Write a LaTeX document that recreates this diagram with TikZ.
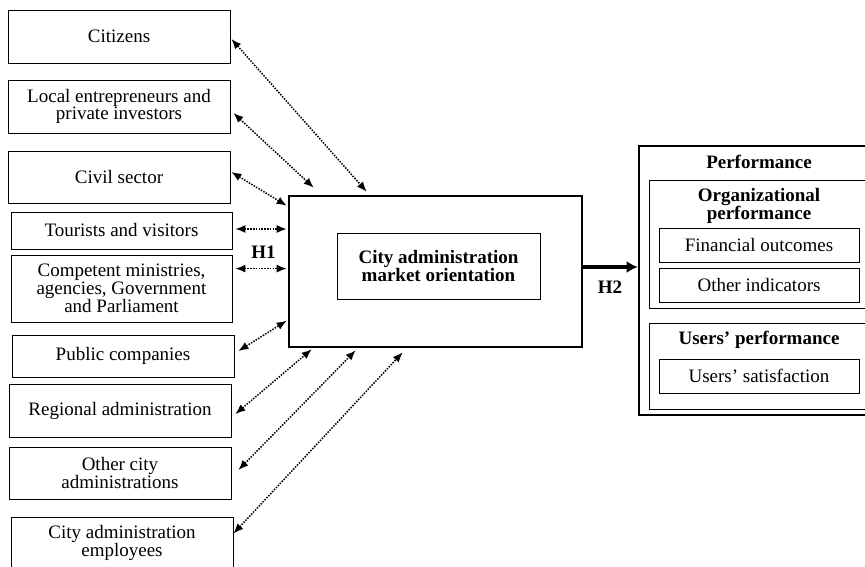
\documentclass[tikz,border=0pt]{standalone}
\usepackage{fontspec}
\setmainfont{Liberation Serif}
\usetikzlibrary{arrows.meta,calc}
\begin{document}
\begin{tikzpicture}[x=1pt,y=-1pt,
  every node/.style={font=\fontsize{19}{15.7}\selectfont, inner sep=0pt, align=center},
  sbox/.style={draw, line width=0.8pt, minimum width=222pt},
  ibox/.style={draw, line width=1pt, minimum width=200pt, minimum height=34pt},
  thickbox/.style={draw, line width=2.6pt},
  midbox/.style={draw, line width=1pt},
  ttl/.style={font=\fontsize{19}{15.7}\selectfont\bfseries},
  darr/.style={line width=1.5pt, dash pattern=on 1.5pt off 1.3pt, {Latex[length=10pt,width=8pt]}-{Latex[length=10pt,width=8pt]}},
  harr/.style={line width=3.2pt, -{Latex[length=11pt,width=12pt]}}
]
\useasboundingbox (0,0) rectangle (865,567);
% stakeholder boxes
\node[sbox, minimum height=53pt] (cit) at (119,36.5) {Citizens};
\node[sbox, minimum height=53pt] (loc) at (119,106.5) {Local entrepreneurs and\\private investors};
\node[sbox, minimum height=52pt] (civ) at (119,177) {Civil sector};
\node[sbox, minimum width=221pt, minimum height=37pt] (tou) at (121.5,230.5) {Tourists and visitors};
\node[sbox, minimum width=221pt, minimum height=67pt] (com) at (121.5,288.5) {Competent ministries,\\agencies, Government\\and Parliament};
\node[sbox, minimum height=42pt] (pub) at (123,356) {Public companies};
\node[sbox, minimum height=53pt] (reg) at (120,410.5) {Regional administration};
\node[sbox, minimum height=52pt] (oth) at (120,473) {Other city\\administrations};
\node[sbox, minimum height=52pt] (emp) at (122,543) {City administration\\employees};
% central box
\node[thickbox, minimum width=293pt, minimum height=151pt] (mo) at (435.5,271.5) {};
\node[midbox, minimum width=203pt, minimum height=66pt, ttl] (moi) at (438.5,266) {City administration\\market orientation};
% performance
\node[thickbox, minimum width=240pt, minimum height=269pt] (perf) at (759,280.5) {};
\node[ttl] (perft) at (759,162) {Performance};
\node[midbox, minimum width=220pt, minimum height=127pt] (org) at (759,244.5) {};
\node[ttl] (orgt) at (759,206) {Organizational\\performance};
\node[ibox] (fin) at (759,245) {Financial outcomes};
\node[ibox] (oind) at (759,285) {Other indicators};
\node[midbox, minimum width=220pt, minimum height=86pt] (usr) at (759,366) {};
\node[ttl] (usrt) at (759,340) {Users' performance};
\node[ibox] (sat) at (759,376) {Users' satisfaction};
% labels
\node[ttl] (h1) at (263.5,252) {H1};
\node[ttl] (h2) at (610,287) {H2};
% arrows
\draw[darr] ($(cit.east)+(1,2.5)$) -- ($(mo.north west)+(79,-3)$);
\draw[darr] ($(loc.east)+(3,6.5)$) -- ($(mo.north west)+(26,-7)$);
\draw[darr] ($(civ.east)+(1,-5)$) -- ($(mo.north west)+(-1,11)$);
\draw[darr] ($(tou.east)+(3,-1.5)$) -- ($(tou.east -| mo.west)+(-1,-1.5)$);
\draw[darr] ($(com.north east)+(3,14)$) -- ($(com.north east -| mo.west)+(-1,14)$);
\draw[darr] ($(pub.east)+(4,-5)$) -- ($(mo.north west)+(-1,126)$);
\draw[darr] ($(reg.east)+(4,3.5)$) -- ($(mo.south west)+(24,1)$);
\draw[darr] ($(oth.east)+(7,-3)$) -- ($(mo.south west)+(68,2)$);
\draw[darr] ($(emp.north east)+(0,17)$) -- ($(mo.south west)+(115,4)$);
\draw[harr] ($(mo.east)+(0,-4.5)$) -- ($(mo.east -| perf.west)+(0,-4.5)$);
\end{tikzpicture}
\end{document}
